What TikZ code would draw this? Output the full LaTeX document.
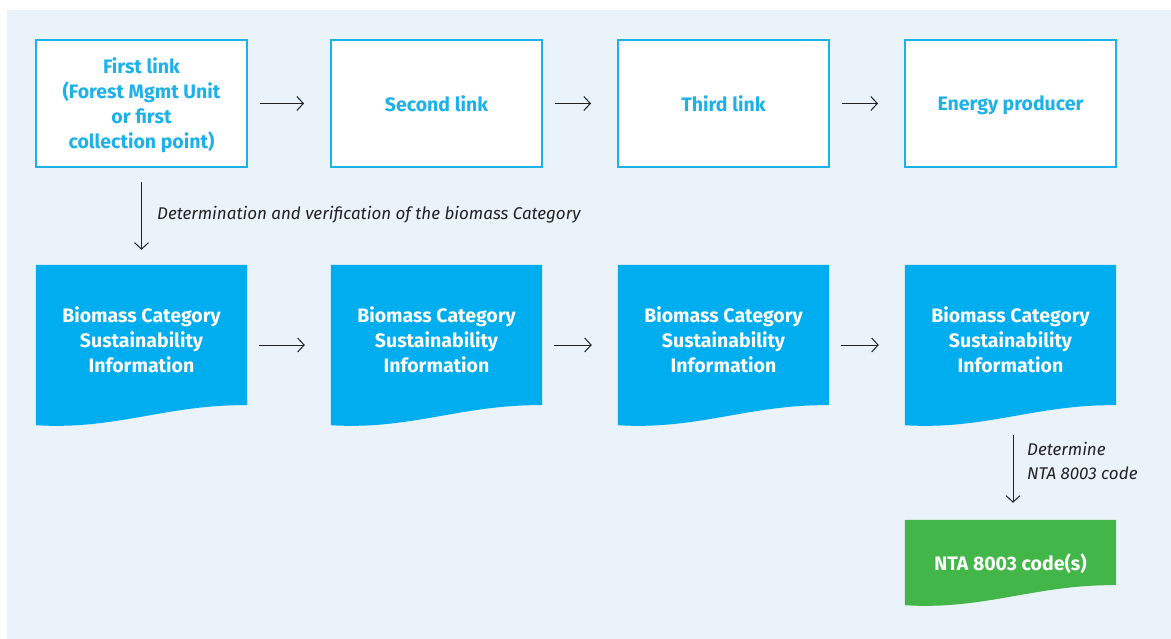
\documentclass[tikz,border=0pt]{standalone}
\usepackage{fontspec}
\setmainfont{Fira Sans}
\usetikzlibrary{arrows.meta}
\definecolor{panelbg}{HTML}{EAF2FA}
\definecolor{linkblue}{HTML}{1DB1EA}
\definecolor{docblue}{HTML}{00ADEE}
\definecolor{codegreen}{HTML}{43B649}
\definecolor{arrowgray}{HTML}{222222}
\pgfdeclarelayer{docs}
\pgfsetlayers{docs,main}
\tikzset{
  linkbox/.style={draw=linkblue, line width=2pt, fill=white, minimum width=211pt,
    minimum height=127pt, inner sep=0pt, text=linkblue, align=center, text depth=-4pt,
    font=\fontsize{19.5}{25}\selectfont\bfseries},
  docbox/.style={minimum width=211pt, inner sep=0pt, text=white, align=center,
    font=\fontsize{19.5}{25}\selectfont\bfseries},
  flow/.style={draw=arrowgray, line width=1pt,
    -{Straight Barb[length=6.5pt,width=14pt,line width=1pt]}},
  note/.style={text=arrowgray, font=\fontsize{17}{24}\selectfont\itshape,
    inner sep=0pt, align=left},
}
% wavy-bottom document fill behind a doc node; #3 = rise of the right corner
\newcommand{\docfill}[3]{%
  \begin{pgfonlayer}{docs}
    \fill[#2] (#1.north west) -- (#1.north east) -- ([yshift=#3]#1.south east)
      .. controls ([xshift=-80pt,yshift=#3+1pt]#1.south east)
      and ([xshift=80pt,yshift=-5pt]#1.south west) .. (#1.south west) -- cycle;
  \end{pgfonlayer}}
\begin{document}
\begin{tikzpicture}[x=1pt,y=-1pt]
\begin{pgfonlayer}{docs}
  \path[use as bounding box] (0,0) rectangle (1171,639);
  \fill[white] (0,0) rectangle (1171,639);
  \fill[panelbg] (7,10) rectangle (1171,639);
\end{pgfonlayer}

% chain of custody links
\node[linkbox] (l1) at (141.5,103.5) {First link\\(Forest Mgmt Unit\\or first\\collection point)};
\node[linkbox] (l2) at (436.5,103.5) {Second link};
\node[linkbox] (l3) at (723.5,103.5) {Third link};
\node[linkbox] (l4) at (1010.5,103.5) {Energy producer};

% information documents passed along the chain
\node[docbox, minimum height=160pt, text depth=10pt] (d1) at (141.5,345) {Biomass Category\\Sustainability\\Information};
\node[docbox, minimum height=160pt, text depth=10pt] (d2) at (436.5,345) {Biomass Category\\Sustainability\\Information};
\node[docbox, minimum height=160pt, text depth=10pt] (d3) at (723.5,345) {Biomass Category\\Sustainability\\Information};
\node[docbox, minimum height=160pt, text depth=10pt] (d4) at (1010.5,345) {Biomass Category\\Sustainability\\Information};
\node[docbox, minimum height=85pt, text depth=-4pt] (g) at (1010.5,562.5) {NTA 8003 code(s)};

\docfill{d1}{docblue}{20pt}
\docfill{d2}{docblue}{20pt}
\docfill{d3}{docblue}{20pt}
\docfill{d4}{docblue}{20pt}
\docfill{g}{codegreen}{20pt}

% horizontal flows
\foreach \a/\b in {l1/l2,l2/l3,l3/l4,d1/d2,d2/d3,d3/d4}
  \draw[flow, shorten <=12pt, shorten >=26pt] (\a.east) -- (\b.west);

% vertical flows
\draw[flow, shorten <=14pt, shorten >=15pt] (l1.south) -- (d1.north);
\draw[flow, shorten <=10pt, shorten >=17pt] ([xshift=2.5pt]d4.south) -- ([xshift=2.5pt]g.north);

\node[note, anchor=west] (n1) at (157,215) {Determination and verification of the biomass Category};
\node[note, anchor=west] (n2) at (1027,461) {Determine\\NTA 8003 code};
\end{tikzpicture}
\end{document}
